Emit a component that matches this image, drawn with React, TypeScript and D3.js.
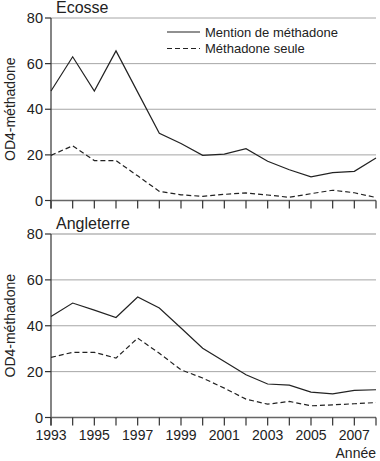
import React from "react";
import * as d3 from "d3";

const years = d3.range(1993, 2009);
const ecosseMention = [48, 63, 48, 65.6, 47.5, 29.5, 25, 19.8, 20.3, 22.7, 17.2, 13.5, 10.4, 12.2, 12.8, 18.6];
const ecosseSeule = [19.8, 24, 17.5, 17.5, 10.8, 4, 2.5, 1.8, 2.7, 3.3, 2.4, 1.4, 3, 4.5, 3.4, 1.3];
const anglMention = [44, 49.9, 46.8, 43.6, 52.5, 47.7, 39, 30.2, 24.4, 18.6, 14.6, 14.1, 11.1, 10.3, 11.8, 12.1];
const anglSeule = [26.2, 28.4, 28.4, 25.9, 34.6, 28, 20.8, 17.2, 12.8, 8, 5.8, 7, 5.1, 5.5, 6, 6.5];
const yTicks = [0, 20, 40, 60, 80];
const xLabelYears = [1993, 1995, 1997, 1999, 2001, 2003, 2005, 2007];
const legendLabels = ["Mention de méthadone", "Méthadone seule"];
const panelTitles = ["Ecosse", "Angleterre"];
const yLabel = "OD4-méthadone";
const xLabel = "Année";

const FONT = "'Liberation Sans', Arial, sans-serif";

export default function App() {
  const W = 380, H = 461;
  const x = d3.scaleLinear().domain([1993, 2008]).range([51, 376]);
  const panels = [
    { title: panelTitles[0], mention: ecosseMention, seule: ecosseSeule, y: d3.scaleLinear().domain([0, 80]).range([200.5, 18]), showLabels: false, legend: true },
    { title: panelTitles[1], mention: anglMention, seule: anglSeule, y: d3.scaleLinear().domain([0, 80]).range([417.5, 234]), showLabels: true, legend: false },
  ];
  return (
    <svg width={W} height={H} style={{ position: "absolute", left: 0, top: 0, background: "#fff" }} fontFamily={FONT}>
      {panels.map((p, pi) => {
        const line = d3.line<number>().x((_, i) => x(years[i])).y((v) => p.y(v));
        const y0 = p.y(0);
        const yTop = p.y(80);
        const midY = (y0 + yTop) / 2;
        return (
          <g key={pi}>
            {yTicks.filter((t) => t > 0).map((t) => (
              <line key={t} x1={x(1993)} x2={x(2008)} y1={p.y(t)} y2={p.y(t)}
                stroke={t === 80 && pi === 1 ? "#c8c8c8" : "#a6a6a6"} strokeWidth={t === 80 && pi === 1 ? 2 : 1} />
            ))}
            {/* y axis */}
            <line x1={x(1993)} x2={x(1993)} y1={yTop} y2={y0 + 8} stroke="#333" strokeWidth={1.2} />
            {yTicks.map((t) => (
              <g key={t}>
                <line x1={x(1993) - 6} x2={x(1993)} y1={p.y(t)} y2={p.y(t)} stroke="#333" strokeWidth={1.2} />
                <text x={x(1993) - 8} y={p.y(t)} dy="0.35em" textAnchor="end" fontSize={14.5} fill="#222">{t}</text>
              </g>
            ))}
            {/* x axis */}
            <line x1={x(1993)} x2={x(2008)} y1={y0} y2={y0} stroke="#666" strokeWidth={1.6} />
            {years.map((yr) => (
              <line key={yr} x1={x(yr)} x2={x(yr)} y1={y0} y2={y0 + 8} stroke="#333" strokeWidth={1.2} />
            ))}
            {p.showLabels && xLabelYears.map((yr) => (
              <text key={yr} x={x(yr)} y={y0 + 22} textAnchor="middle" fontSize={14} fill="#222">{yr}</text>
            ))}
            <path d={line(p.mention) || ""} fill="none" stroke="#222" strokeWidth={1.2} />
            <path d={line(p.seule) || ""} fill="none" stroke="#222" strokeWidth={1.2} strokeDasharray="5,3" />
            <text x={56} y={yTop - 5} fontSize={16} fill="#222">{p.title}</text>
            <text transform={`translate(15,${midY}) rotate(-90)`} textAnchor="middle" fontSize={14} fill="#222">{yLabel}</text>
            {p.legend && legendLabels.map((lab, li) => (
              <g key={lab} transform={`translate(167,${32 + li * 16.5})`}>
                <line x1={0} x2={33} y1={0} y2={0} stroke="#222" strokeWidth={1.2} strokeDasharray={li === 1 ? "5,3" : undefined} />
                <text x={38} y={0} dy="0.35em" fontSize={13} fill="#222">{lab}</text>
              </g>
            ))}
          </g>
        );
      })}
      <text x={376} y={458} textAnchor="end" fontSize={14} fill="#222">{xLabel}</text>
    </svg>
  );
}
